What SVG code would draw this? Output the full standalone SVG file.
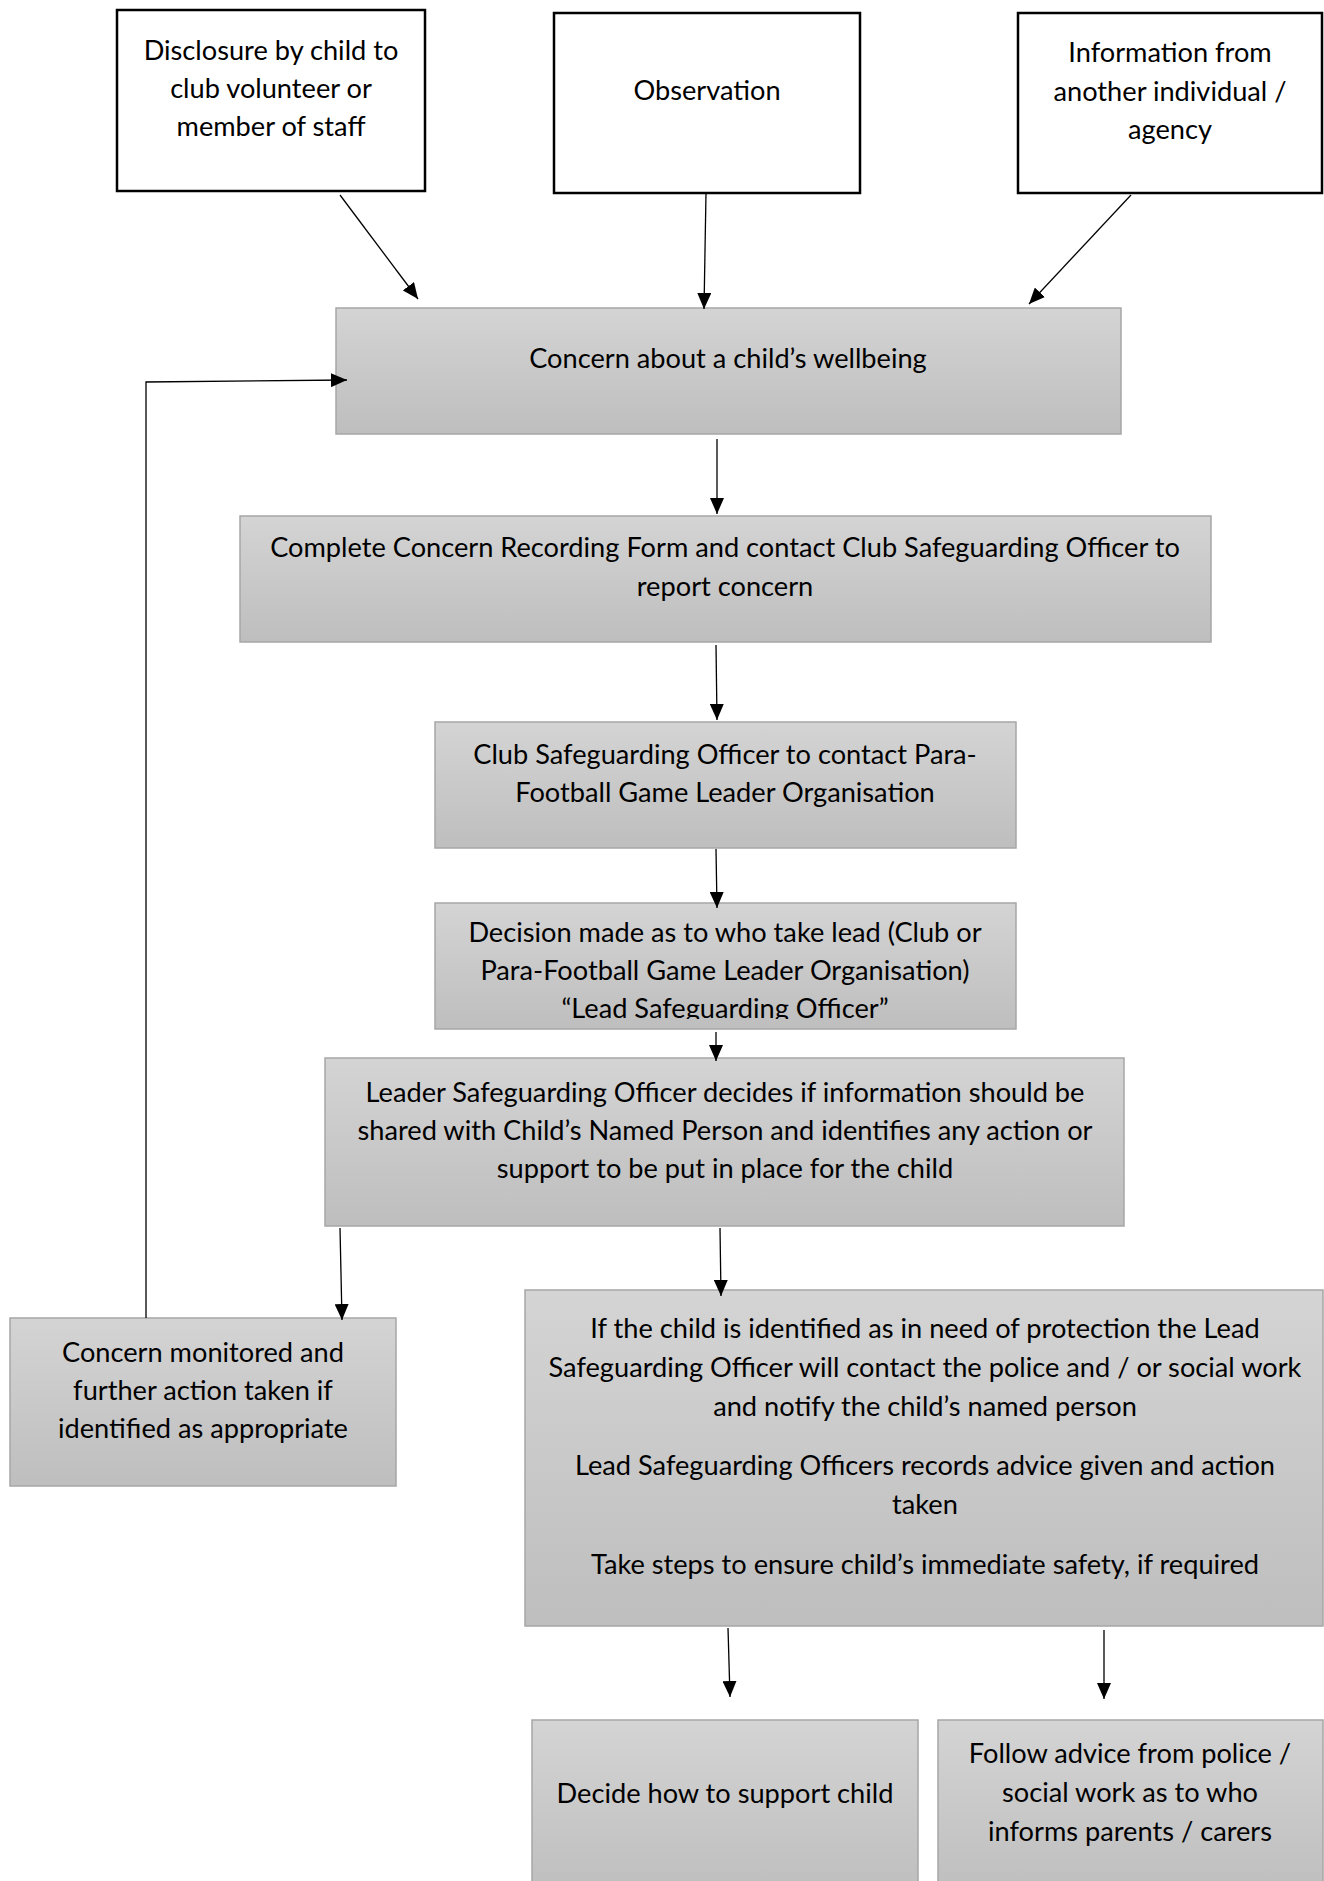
<svg xmlns="http://www.w3.org/2000/svg" width="1324" height="1881" viewBox="0 0 1324 1881">
<style>
text{font-family:Lato,"Liberation Sans",sans-serif;font-size:27.2px;fill:#000;text-anchor:middle}
.w{fill:#fff;stroke:#000;stroke-width:2.5}
.g{fill:url(#gr);stroke:#a6a6a6;stroke-width:1.5}
.c{fill:none;stroke:#000;stroke-width:1.3}
</style>
<defs>
<linearGradient id="gr" x1="0" y1="0" x2="0" y2="1">
<stop offset="0" stop-color="#d4d4d4"/>
<stop offset="1" stop-color="#bebebe"/>
</linearGradient>
<marker id="ah" markerUnits="userSpaceOnUse" markerWidth="16" markerHeight="14" refX="16" refY="7" orient="auto">
<path d="M0,0 L16,7 L0,14 z" fill="#000"/>
</marker>
<clipPath id="decClip"><rect x="435" y="903" width="581" height="116"/></clipPath>
</defs>
<rect width="1324" height="1881" fill="#fff"/>

<g id="n-disclosure">
<rect class="w" x="117" y="10" width="308" height="181"/>
<text x="271" y="60">Disclosure by child to</text>
<text x="271" y="98">club volunteer or</text>
<text x="271" y="136">member of staff</text>
</g>
<g id="n-observation">
<rect class="w" x="554" y="13" width="306" height="180"/>
<text x="707" y="100">Observation</text>
</g>
<g id="n-information">
<rect class="w" x="1018" y="13" width="304" height="180"/>
<text x="1170" y="62">Information from</text>
<text x="1170" y="101">another individual /</text>
<text x="1170" y="139">agency</text>
</g>
<g id="n-concern">
<rect class="g" x="336" y="308" width="785" height="126"/>
<text x="728" y="368">Concern about a child’s wellbeing</text>
</g>
<g id="n-complete">
<rect class="g" x="240" y="516" width="971" height="126"/>
<text x="725" y="557">Complete Concern Recording Form and contact Club Safeguarding Officer to</text>
<text x="725" y="596">report concern</text>
</g>
<g id="n-club">
<rect class="g" x="435" y="722" width="581" height="126"/>
<text x="725" y="764">Club Safeguarding Officer to contact Para-</text>
<text x="725" y="802">Football Game Leader Organisation</text>
</g>
<g id="n-decision">
<rect class="g" x="435" y="903" width="581" height="126"/>
<g clip-path="url(#decClip)">
<text x="725" y="942">Decision made as to who take lead (Club or</text>
<text x="725" y="980">Para-Football Game Leader Organisation)</text>
<text x="725" y="1018">“Lead Safeguarding Officer”</text>
</g>
</g>
<g id="n-leader">
<rect class="g" x="325" y="1058" width="799" height="168"/>
<text x="725" y="1102">Leader Safeguarding Officer decides if information should be</text>
<text x="725" y="1140">shared with Child’s Named Person and identifies any action or</text>
<text x="725" y="1178">support to be put in place for the child</text>
</g>
<g id="n-monitored">
<rect class="g" x="10" y="1318" width="386" height="168"/>
<text x="203" y="1362">Concern monitored and</text>
<text x="203" y="1400">further action taken if</text>
<text x="203" y="1438">identified as appropriate</text>
</g>
<g id="n-protection">
<rect class="g" x="525" y="1290" width="798" height="336"/>
<text x="925" y="1338">If the child is identified as in need of protection the Lead</text>
<text x="925" y="1377">Safeguarding Officer will contact the police and / or social work</text>
<text x="925" y="1416">and notify the child’s named person</text>
<text x="925" y="1475">Lead Safeguarding Officers records advice given and action</text>
<text x="925" y="1514">taken</text>
<text x="925" y="1574">Take steps to ensure child’s immediate safety, if required</text>
</g>
<g id="n-decide">
<rect class="g" x="532" y="1720" width="386" height="175"/>
<text x="725" y="1803">Decide how to support child</text>
</g>
<g id="n-follow">
<rect class="g" x="938" y="1720" width="385" height="175"/>
<text x="1130" y="1763">Follow advice from police /</text>
<text x="1130" y="1802">social work as to who</text>
<text x="1130" y="1841">informs parents / carers</text>
</g>

<g id="connectors">
<line class="c" x1="340" y1="195" x2="418" y2="299" marker-end="url(#ah)"/>
<line class="c" x1="706" y1="193" x2="704" y2="309" marker-end="url(#ah)"/>
<line class="c" x1="1131" y1="195" x2="1029" y2="304" marker-end="url(#ah)"/>
<line class="c" x1="717" y1="439" x2="717" y2="514" marker-end="url(#ah)"/>
<line class="c" x1="716" y1="645" x2="717" y2="720" marker-end="url(#ah)"/>
<line class="c" x1="716" y1="849" x2="717" y2="908" marker-end="url(#ah)"/>
<line class="c" x1="716" y1="1032" x2="716" y2="1061" marker-end="url(#ah)"/>
<line class="c" x1="340" y1="1228" x2="342" y2="1320" marker-end="url(#ah)"/>
<line class="c" x1="720" y1="1228" x2="721" y2="1296" marker-end="url(#ah)"/>
<line class="c" x1="728" y1="1628" x2="730" y2="1697" marker-end="url(#ah)"/>
<line class="c" x1="1104" y1="1630" x2="1104" y2="1699" marker-end="url(#ah)"/>
<polyline class="c" points="146,1318 146,382 347,380" marker-end="url(#ah)"/>
</g>
</svg>
